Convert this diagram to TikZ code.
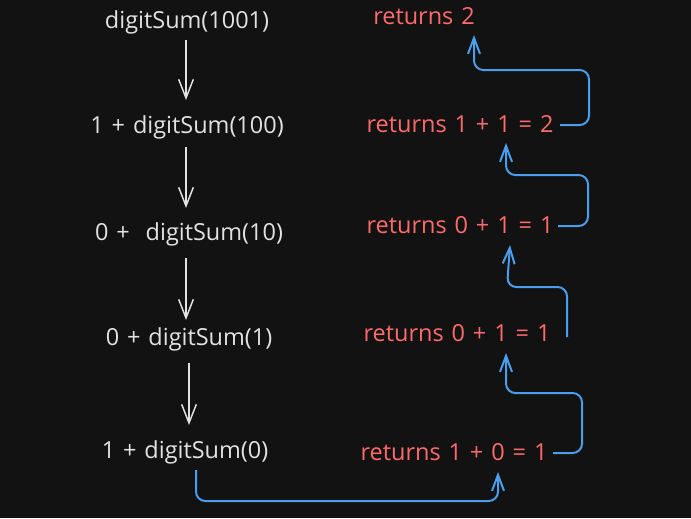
\documentclass[tikz,border=0pt]{standalone}
\usepackage{fontspec}
\setmainfont{Open Sans}
\newfontfamily\widefont[WordSpace=1.3]{Open Sans}
\usetikzlibrary{arrows.meta}
\definecolor{bgc}{HTML}{121212}
\definecolor{wtc}{HTML}{E2E2E2}
\definecolor{rdc}{HTML}{FF6B6B}
\definecolor{blc}{HTML}{4A9EED}
\tikzset{
  calltxt/.style={anchor=base,inner sep=0pt,text=wtc,font=\widefont\fontsize{17.6}{20}\selectfont},
  rettxt/.style={anchor=base,inner sep=0pt,text=rdc,font=\widefont\fontsize{17.6}{20}\selectfont},
  warrow/.style={draw=wtc,line width=1.1pt,-{Straight Barb[length=14pt,width=11pt,line width=1.1pt]}},
  barrow/.style={draw=blc,line width=1.5pt,rounded corners=7pt,-{Straight Barb[length=12pt,width=9pt,line width=1.5pt]}}
}
\begin{document}
\begin{tikzpicture}[x=0.75pt,y=-0.75pt]
\fill[bgc] (0,0) rectangle (691,518);
\useasboundingbox (0,0) rectangle (691,518);
% left column
\node[calltxt] (L1) at (187,28) {digitSum(1001)};
\node[calltxt] (L2) at (187,133) {1 + digitSum(100)};
\node[calltxt] (L3) at (189,240) {0 +\ \ digitSum(10)};
\node[calltxt] (L4) at (189,345) {0 + digitSum(1)};
\node[calltxt] (L5) at (185,458) {1 + digitSum(0)};
% right column
\node[rettxt] (R1) at (424,24) {returns 2};
\node[rettxt] (R2) at (460,132) {returns 1 + 1 = 2};
\node[rettxt] (R3) at (460,233) {returns 0 + 1 = 1};
\node[rettxt] (R4) at (457,341) {returns 0 + 1 = 1};
\node[rettxt] (R5) at (454,460) {returns 1 + 0 = 1};
% white call arrows
\draw[warrow] ([shift={(-1,12)}]L1.base) -- ([shift={(-1,-33)}]L2.base);
\draw[warrow] ([shift={(-1,14)}]L2.base) -- ([shift={(-3,-32)}]L3.base);
\draw[warrow,line width=1.6pt] ([shift={(-3,18)}]L3.base) -- ([shift={(-3,-25)}]L4.base);
\draw[warrow] ([shift={(0,18)}]L4.base) -- ([shift={(4,-33)}]L5.base);
% blue return arrows
\draw[barrow] ([shift={(11,12)}]L5.base) -- (196,501) -- (498,501) -- ([shift={(44,12)}]R5.base);
\draw[barrow] ([shift={(99,-7)}]R5.base) -- (582,453) -- (582,393) -- (506,393) -- ([shift={(49,12)}]R4.base);
\draw[barrow] ([shift={(110,-4)}]R4.base) -- (567,287) -- (507,287) -- ([shift={(50,12)}]R3.base);
\draw[barrow] ([shift={(98,-7)}]R3.base) -- (588,226) -- (588,175) -- (506,175) -- ([shift={(46,11)}]R2.base);
\draw[barrow] ([shift={(100,-7)}]R2.base) -- (589,125) -- (589,70) -- (474,70) -- ([shift={(50,11)}]R1.base);
\end{tikzpicture}
\end{document}
